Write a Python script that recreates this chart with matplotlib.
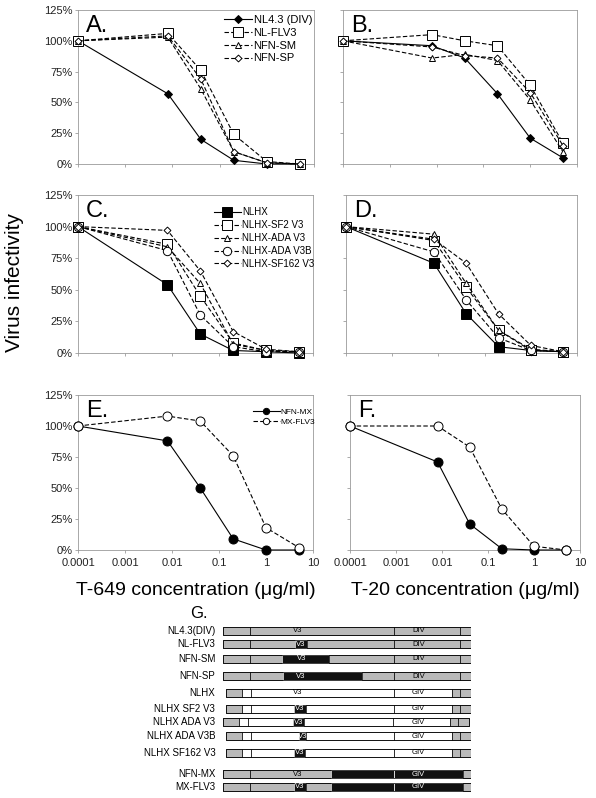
import numpy as np
import matplotlib
matplotlib.use("Agg")
import matplotlib.pyplot as plt

plt.rcParams['font.family'] = ['Liberation Sans', 'DejaVu Sans']

# drug concentrations (ug/ml); 0 drug is plotted at 0.0001
conc = [0.0001, 0.008, 0.04, 0.2, 1, 5]

# panel A / B : T-649 and T-20, DIV based viruses
names_ab = ['NL4.3 (DIV)', 'NL-FLV3', 'NFN-SM', 'NFN-SP']
a_vals = [
    [100, 57, 20, 3, 0, 0],
    [100, 106, 76, 24, 2, 0],
    [100, 103, 61, 10, 1, 0],
    [100, 104, 69, 10, 1, 0],
]
b_vals = [
    [100, 96, 86, 57, 21, 5],
    [100, 105, 100, 96, 64, 17],
    [100, 86, 89, 84, 52, 10],
    [100, 95, 88, 86, 58, 15],
]

# panel C / D : NLHX chimeras
names_cd = ['NLHX', 'NLHX-SF2 V3', 'NLHX-ADA V3', 'NLHX-ADA V3B', 'NLHX-SF162 V3']
c_vals = [
    [100, 54, 15, 2, 1, 0],
    [100, 86, 45, 8, 2, 1],
    [100, 84, 55, 7, 2, 1],
    [100, 81, 30, 5, 1, 1],
    [100, 97, 65, 17, 3, 1],
]
d_vals = [
    [100, 71, 31, 5, 2, 1],
    [100, 89, 52, 18, 2, 1],
    [100, 94, 55, 18, 3, 1],
    [100, 80, 42, 12, 2, 1],
    [100, 90, 71, 31, 6, 1],
]

# panel E / F : MX viruses
names_ef = ['NFN-MX', 'MX-FLV3']
e_vals = [
    [100, 88, 50, 9, 0, 0],
    [100, 108, 104, 76, 18, 2],
]
f_vals = [
    [100, 71, 21, 1, 0, 0],
    [100, 100, 83, 33, 3, 0],
]

ytick_vals = [0, 25, 50, 75, 100, 125]
ytick_labels = ['0%', '25%', '50%', '75%', '100%', '125%']
xtick_vals = [0.0001, 0.001, 0.01, 0.1, 1, 10]
xtick_labels = ['0.0001', '0.001', '0.01', '0.1', '1', '10']

# panel G : genome schematics, segments in % of the env region
constructs = ['NL4.3(DIV)', 'NL-FLV3', 'NFN-SM', 'NFN-SP', 'NLHX', 'NLHX SF2 V3',
              'NLHX ADA V3', 'NLHX ADA V3B', 'NLHX SF162 V3', 'NFN-MX', 'MX-FLV3']
segments = [
    [(0, 11, 'g'), (11, 69.2, 'g'), (69.2, 95.7, 'g'), (95.7, 100, 'g')],
    [(0, 11, 'g'), (11, 29.1, 'g'), (29.1, 33.9, 'k'), (33.9, 69.2, 'g'), (69.2, 95.7, 'g'), (95.7, 100, 'g')],
    [(0, 11, 'g'), (11, 23.8, 'g'), (23.8, 42.9, 'k'), (42.9, 69.2, 'g'), (69.2, 95.7, 'g'), (95.7, 100, 'g')],
    [(0, 11, 'g'), (11, 24.2, 'g'), (24.2, 56.3, 'k'), (56.3, 69.2, 'g'), (69.2, 95.7, 'g'), (95.7, 100, 'g')],
    [(1.5, 7.7, 'g'), (7.7, 11.4, 'w'), (11.4, 69.2, 'w'), (69.2, 92.6, 'w'), (92.6, 95.7, 'g'), (95.7, 100, 'g')],
    [(1.5, 7.7, 'g'), (7.7, 11.4, 'w'), (11.4, 28.9, 'w'), (28.9, 33.6, 'k'), (33.6, 69.2, 'w'), (69.2, 92.6, 'w'), (92.6, 95.7, 'g'), (95.7, 100, 'g')],
    [(0, 6.5, 'g'), (6.5, 10.3, 'w'), (10.3, 28.2, 'w'), (28.2, 32.9, 'k'), (32.9, 68.5, 'w'), (68.5, 91.8, 'w'), (91.8, 94.8, 'g'), (94.8, 99.3, 'g')],
    [(1.5, 7.7, 'g'), (7.7, 11.4, 'w'), (11.4, 30.8, 'w'), (30.8, 33.5, 'k'), (33.5, 69.2, 'w'), (69.2, 92.6, 'w'), (92.6, 95.7, 'g'), (95.7, 100, 'g')],
    [(1.5, 7.7, 'g'), (7.7, 11.4, 'w'), (11.4, 28.9, 'w'), (28.9, 33.3, 'k'), (33.3, 69.2, 'w'), (69.2, 92.6, 'w'), (92.6, 95.7, 'g'), (95.7, 100, 'g')],
    [(0, 11, 'g'), (11, 43.7, 'g'), (43.7, 69.2, 'k'), (69.2, 97, 'k'), (97, 100, 'g')],
    [(0, 11, 'g'), (11, 28.9, 'g'), (28.9, 33.6, 'k'), (33.6, 43.7, 'g'), (43.7, 69.2, 'k'), (69.2, 97, 'k'), (97, 100, 'g')],
]
v3_pos = [30.4, 31.5, 31.8, 31.4, 30.4, 31.2, 30.5, 32.1, 31.1, 30.4, 31.2]
env_labels = ['DIV'] * 4 + ['GIV'] * 7
fill_colors = {'g': '#b9b9b9', 'k': '#111111', 'w': 'white'}

W, H = 596, 798
fig = plt.figure(figsize=(W / 100, H / 100), dpi=100)


def px_axes(x0, y0, x1, y1):
    return fig.add_axes([x0 / W, 1 - y1 / H, (x1 - x0) / W, (y1 - y0) / H])


styles_ab = [
    dict(ls='-', marker='D', ms=4.5, mfc='black', mec='black'),
    dict(ls='--', marker='s', ms=7, mfc='white', mec='black'),
    dict(ls='--', marker='^', ms=4, mfc='white', mec='black'),
    dict(ls='--', marker='D', ms=3.5, mfc='white', mec='black'),
]
styles_cd = [
    dict(ls='-', marker='s', ms=6.5, mfc='black', mec='black'),
    dict(ls='--', marker='s', ms=6.5, mfc='white', mec='black'),
    dict(ls='--', marker='^', ms=4, mfc='white', mec='black'),
    dict(ls='--', marker='o', ms=6, mfc='white', mec='black'),
    dict(ls='--', marker='D', ms=3.5, mfc='white', mec='black'),
]
styles_ef = [
    dict(ls='-', marker='o', ms=6.5, mfc='black', mec='black'),
    dict(ls='--', marker='o', ms=6.5, mfc='white', mec='black'),
]


def draw_panel(ax, vals, names, styles, letter, ylabels, xlabels):
    for v, n, st in zip(vals, names, styles):
        ax.plot(conc, v, color='black', lw=0.8, dashes=(4, 2) if st['ls'] == '--' else (None, None),
                marker=st['marker'], ms=st['ms'], mfc=st['mfc'], mec=st['mec'], mew=0.7,
                label=n, clip_on=False, zorder=3)
    ax.set_xscale('log')
    ax.set_xlim(0.0001, 10)
    ax.set_ylim(0, 125)
    ax.set_yticks(ytick_vals)
    ax.set_xticks(xtick_vals)
    ax.minorticks_off()
    if ylabels:
        ax.set_yticklabels(ytick_labels)
    else:
        ax.set_yticklabels([])
    if xlabels:
        ax.set_xticklabels(xtick_labels)
    else:
        ax.set_xticklabels([])
    ax.tick_params(labelsize=8, length=2.5, width=0.5, color='#888888', labelcolor='#222222', pad=1.5)
    ax.tick_params(axis='x', pad=3)
    for sp in ax.spines.values():
        sp.set_color('#9a9a9a')
        sp.set_linewidth(0.6)
    ax.text(0.035, 0.97, letter, transform=ax.transAxes, fontsize=17, va='top', ha='left')


axA = px_axes(78, 10, 314, 164)
draw_panel(axA, a_vals, names_ab, styles_ab, 'A.', True, False)
axA.legend(loc='upper right', bbox_to_anchor=(1.02, 1.01), frameon=False, fontsize=8,
           handlelength=2.6, handletextpad=0.1, labelspacing=0.25, borderaxespad=0.2)
axB = px_axes(343, 10, 577, 164)
draw_panel(axB, b_vals, names_ab, styles_ab, 'B.', False, False)

axC = px_axes(78, 195, 313, 353)
draw_panel(axC, c_vals, names_cd, styles_cd, 'C.', True, False)
axC.legend(loc='upper right', bbox_to_anchor=(1.03, 0.96), frameon=False, fontsize=7,
           handlelength=2.8, handletextpad=0.1, labelspacing=0.3, borderaxespad=0.2)
axD = px_axes(346, 195, 577, 353)
draw_panel(axD, d_vals, names_cd, styles_cd, 'D.', False, False)

axE = px_axes(78, 395, 313, 550)
draw_panel(axE, e_vals, names_ef, styles_ef, 'E.', True, True)
axE.legend(loc='upper right', bbox_to_anchor=(1.03, 0.95), frameon=False, fontsize=6,
           handlelength=3.2, handletextpad=0.1, labelspacing=0.3, borderaxespad=0.2, markerscale=0.7)
axF = px_axes(350, 395, 580, 550)
draw_panel(axF, f_vals, names_ef, styles_ef, 'F.', False, True)

axE.set_xlabel('T-649 concentration (\u03bcg/ml)', fontsize=14, labelpad=10)
axF.set_xlabel('T-20 concentration (\u03bcg/ml)', fontsize=14, labelpad=10)
fig.text(15 / W, 1 - 283 / H, 'Virus infectivity', rotation=90, fontsize=15, ha='center', va='center')

# panel G
row_y = [631, 644, 659, 676, 693, 709, 722, 736, 753, 774, 787]
axG = px_axes(222.7, 620, 470.7, 795)
axG.set_xlim(0, 100)
axG.set_ylim(795, 620)
axG.axis('off')
bar_h = 7.5
for i, name in enumerate(constructs):
    y = row_y[i]
    for s, e, c in segments[i]:
        axG.barh(y, e - s, left=s, height=bar_h, color=fill_colors[c],
                 edgecolor='white' if c == 'k' else 'black', linewidth=0.5)
    # outline of the whole bar
    x_start = segments[i][0][0]
    x_end = segments[i][-1][1]
    axG.barh(y, x_end - x_start, left=x_start, height=bar_h, fill=False, edgecolor='black', linewidth=0.5)
    # V3 label colour depends on what is behind
    v3_c = 'black'
    for s, e, c in segments[i]:
        if s <= v3_pos[i] <= e and c == 'k':
            v3_c = 'white'
    env_c = 'white' if i >= 9 else 'black'
    axG.text(v3_pos[i], y, 'V3', fontsize=5.5, ha='center', va='center', color=v3_c)
    axG.text(79, y, env_labels[i], fontsize=5.5, ha='center', va='center', color=env_c)
    axG.text(-3, y, name, fontsize=7, ha='right', va='center', clip_on=False)
fig.text(190 / W, 1 - 614 / H, 'G.', fontsize=12, ha='left', va='center')

fig.savefig('out.png', dpi=100)
